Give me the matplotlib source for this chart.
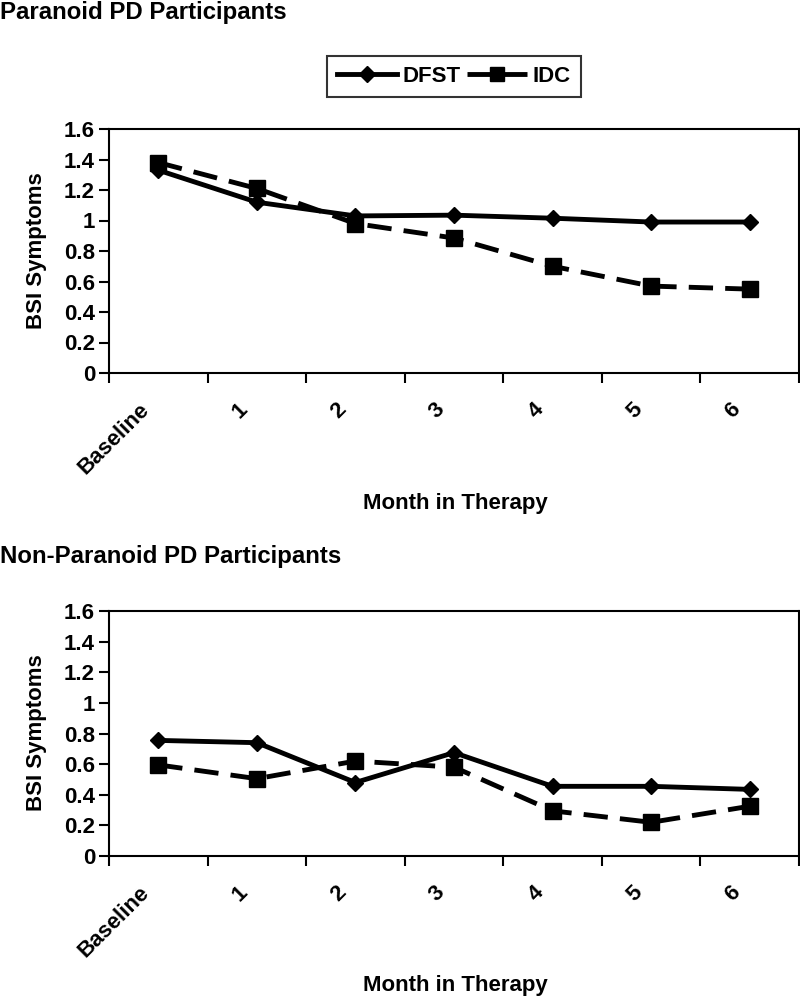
import numpy as np
import matplotlib
matplotlib.use("Agg")
import matplotlib.pyplot as plt
from matplotlib.lines import Line2D

plt.rcParams['font.family'] = ['Liberation Sans', 'DejaVu Sans']
plt.rcParams['font.weight'] = 'bold'

months = ["Baseline", "1", "2", "3", "4", "5", "6"]

# paranoid PD participants
par_dfst = [1.33, 1.12, 1.03, 1.035, 1.015, 0.99, 0.99]
par_idc = [1.38, 1.21, 0.98, 0.885, 0.70, 0.57, 0.55]

# non-paranoid PD participants
non_dfst = [0.755, 0.74, 0.48, 0.675, 0.455, 0.455, 0.435]
non_idc = [0.595, 0.505, 0.62, 0.58, 0.295, 0.22, 0.325]

yticks = [0, 0.2, 0.4, 0.6, 0.8, 1, 1.2, 1.4, 1.6]
ytick_labels = ["0", "0.2", "0.4", "0.6", "0.8", "1", "1.2", "1.4", "1.6"]

W, H = 800, 998
FS = 16
DASH = (0, (5, 2.5))
LABEL_SHIFT = 0.2  # rotated labels end a little left of the category centre
fig = plt.figure(figsize=(W / 100, H / 100), dpi=100)


def px_axes(left, top, right, bottom):
    return fig.add_axes([left / W, 1 - bottom / H, (right - left) / W, (bottom - top) / H])


def draw_panel(ax, dfst, idc, ylab_y):
    x = np.arange(len(months))
    ax.plot(x, dfst, color='black', lw=3.5, marker='D', ms=8.5, label='DFST', zorder=3)
    ax.plot(x, idc, color='black', lw=3.5, ls=DASH, marker='s', ms=12,
            label='IDC', zorder=3)
    ax.set_xlim(-0.5, len(months) - 0.5)
    ax.set_ylim(0, 1.6)
    ax.set_yticks(yticks)
    ax.set_yticklabels(ytick_labels, fontsize=FS, fontweight='bold')
    # tick marks between categories, labels on the categories
    ax.set_xticks(np.arange(-0.5, len(months), 1.0))
    ax.set_xticklabels([])
    ax.set_xticks(x - LABEL_SHIFT, minor=True)
    ax.set_xticklabels(months, minor=True, rotation=45, ha='right', va='top',
                       rotation_mode='anchor', fontsize=FS, fontweight='bold')
    ax.tick_params(axis='x', which='minor', length=0, pad=19)
    ax.tick_params(axis='both', which='major', length=7, width=1.5, direction='out')
    ax.tick_params(axis='y', pad=3)
    for s in ax.spines.values():
        s.set_linewidth(1.5)
    fig.text(37 / W, 1 - ylab_y / H, "BSI Symptoms", fontsize=FS, fontweight='bold',
             rotation=90, ha='center', va='center')


ax1 = px_axes(109, 129, 799, 373)
draw_panel(ax1, par_dfst, par_idc, 251)
ax2 = px_axes(109, 611, 799, 856)
draw_panel(ax2, non_dfst, non_idc, 733)

fig.text(0, 1 - 1 / H, "Paranoid PD Participants", fontsize=17.3,
         fontweight='bold', va='top', ha='left')
fig.text(0, 1 - 557 / H, "Non-Paranoid PD Participants", fontsize=17.3,
         fontweight='bold', va='center', ha='left')
fig.text(455 / W, 1 - 503 / H, "Month in Therapy", fontsize=FS,
         fontweight='bold', va='center', ha='center')
fig.text(455 / W, 1 - 985 / H, "Month in Therapy", fontsize=FS,
         fontweight='bold', va='center', ha='center')

handles = [Line2D([], [], color='black', lw=3.5, marker='D', ms=8),
           Line2D([], [], color='black', lw=3.5, ls=DASH, marker='s', ms=10)]
leg = fig.legend(handles, ["DFST", "IDC"], loc='center', bbox_to_anchor=(454 / W, 1 - 76.5 / H),
                 ncol=2, frameon=True, fancybox=False, edgecolor='black',
                 prop={'size': FS, 'weight': 'bold'}, handlelength=2.7,
                 columnspacing=0.3, handletextpad=0.25, borderpad=0.45,
                 borderaxespad=0)
leg.get_frame().set_linewidth(1.5)

fig.savefig("out.png", dpi=100, facecolor='white')
